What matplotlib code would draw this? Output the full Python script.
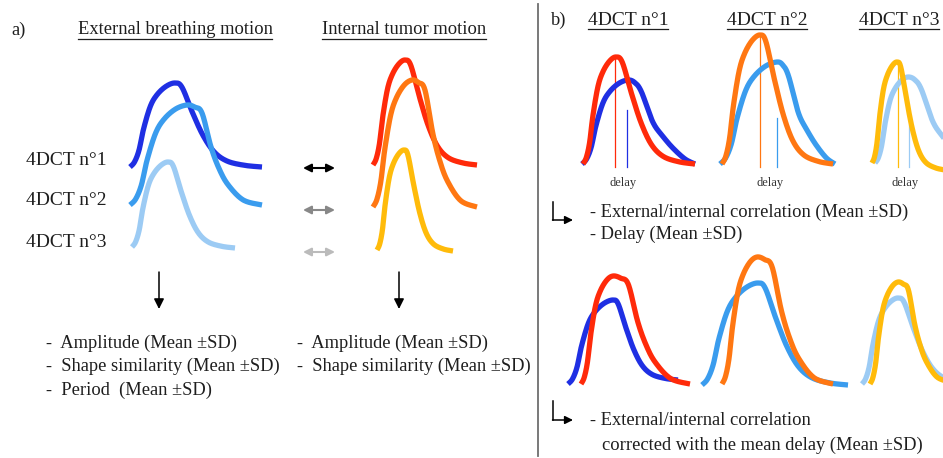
import numpy as np
import matplotlib
matplotlib.use("Agg")
import matplotlib.pyplot as plt

plt.rcParams['font.family'] = ['Liberation Serif', 'DejaVu Serif']

# ---------------- data ----------------
# normalized breathing-cycle profile (rise / fall)
RISE_U = [0.0, 0.1, 0.2, 0.3, 0.45, 0.6, 0.8, 1.0]
RISE_H = [0.0, 0.06, 0.2, 0.45, 0.72, 0.86, 0.96, 1.0]
FALL_V = {'round':    [0.0, 0.08, 0.2, 0.32, 0.45, 0.6, 0.8, 1.0],
          'shoulder': [0.0, 0.1, 0.2, 0.32, 0.43, 0.55, 0.75, 1.0],
          'slow':     [0.0, 0.1, 0.2, 0.37, 0.52, 0.67, 0.85, 1.0]}
FALL_H = {'round':    [1.0, 0.95, 0.65, 0.38, 0.18, 0.07, 0.02, 0.0],
          'shoulder': [1.0, 0.98, 0.92, 0.58, 0.36, 0.2, 0.05, 0.0],
          'slow':     [1.0, 0.97, 0.86, 0.5, 0.33, 0.19, 0.06, 0.0]}

# curves: (x_start, x_peak, x_end, y_start, y_peak, y_end, fall kind)
EXT_A = [(130, 175, 262, 167, 83, 167, 'round'),
         (130, 187, 262, 205, 105, 205, 'shoulder'),
         (132, 168, 235, 247, 162, 248, 'round')]
INT_A = [(373, 405, 477, 165, 60, 165, 'round'),
         (373, 412, 477, 207, 80, 207, 'shoulder'),
         (377, 404, 453, 250, 150, 251, 'round')]
EXT_BT = [(582, 628, 695, 164, 80, 164, 'slow'),
          (720, 777, 835, 164, 62, 164, 'slow'),
          (875, 908, 975, 163, 77, 166, 'slow')]
INT_BT = [(583, 616, 695, 164, 57, 164, 'round'),
          (722, 760, 833, 164, 35, 164, 'round'),
          (872, 897, 945, 163, 62, 170, 'round')]
EXT_BB = [(568, 613, 678, 384, 300, 380, 'round'),
          (702, 758, 848, 385, 283, 385, 'round'),
          (862, 898, 975, 384, 298, 384, 'round')]
INT_BB = [(581, 613, 690, 384, 276, 384, 'shoulder'),
          (722, 757, 833, 384, 257, 384, 'shoulder'),
          (870, 898, 950, 384, 282, 382, 'shoulder')]

# delay markers (x, top y) for internal / external peaks
DELAY_INT = [(615, 57), (760, 35), (898, 67)]
DELAY_EXT = [(627, 110), (777, 118), (909, 125)]
DELAY_BOTTOM = 167

EXT_COLORS = ['#1f2fe3', '#3a9cee', '#9ccbf4']
INT_COLORS = ['#ff2a0a', '#ff7712', '#ffbb0a']
ARROW_COLORS = ['#000000', '#888888', '#bbbbbb']

ROW_LABELS = ['4DCT n°1', '4DCT n°2', '4DCT n°3']
LEFT_LIST = ['-  Amplitude (Mean ±SD)', '-  Shape similarity (Mean ±SD)', '-  Period  (Mean ±SD)']
RIGHT_LIST = ['-  Amplitude (Mean ±SD)', '-  Shape similarity (Mean ±SD)']
B_TOP_LIST = ['- External/internal correlation (Mean ±SD)', '- Delay (Mean ±SD)']
B_BOT_LIST = ['- External/internal correlation', 'corrected with the mean delay (Mean ±SD)']

TXT = '#1e1e1e'


def catmull(pts, n=24):
    P = np.vstack([pts[0], pts, pts[-1]])
    out = []
    t = np.linspace(0, 1, n, endpoint=False)[:, None]
    for i in range(1, len(P) - 2):
        p0, p1, p2, p3 = P[i - 1], P[i], P[i + 1], P[i + 2]
        seg = 0.5 * ((2 * p1) + (-p0 + p2) * t + (2 * p0 - 5 * p1 + 4 * p2 - p3) * t ** 2
                     + (-p0 + 3 * p1 - 3 * p2 + p3) * t ** 3)
        out.append(seg)
    out.append(P[-2][None])
    return np.vstack(out)


def curve(spec):
    x0, xp, x1, y0, yp, y1, kind = spec
    ru = np.array(RISE_U); rh = np.array(RISE_H)
    fv = np.array(FALL_V[kind]); fh = np.array(FALL_H[kind])
    xr = x0 + ru * (xp - x0); yr = y0 + rh * (yp - y0)
    xf = xp + fv * (x1 - xp); yf = y1 + fh * (yp - y1)
    pts = np.column_stack([np.concatenate([xr, xf[1:]]), np.concatenate([yr, yf[1:]])])
    return catmull(pts)


fig = plt.figure(figsize=(9.43, 4.58), dpi=100)
ax = fig.add_axes([0, 0, 1, 1])
ax.set_xlim(0, 943)
ax.set_ylim(458, 0)
ax.axis('off')

LW = 3.8
# panel a curves
for spec, c in zip(EXT_A, EXT_COLORS):
    p = curve(spec); ax.plot(p[:, 0], p[:, 1], color=c, lw=LW, solid_capstyle='butt', zorder=3)
for spec, c in zip(INT_A, INT_COLORS):
    p = curve(spec); ax.plot(p[:, 0], p[:, 1], color=c, lw=LW, solid_capstyle='butt', zorder=3)

# panel b curves
for row_ext, row_int in ((EXT_BT, INT_BT), (EXT_BB, INT_BB)):
    for se, si, ce, ci in zip(row_ext, row_int, EXT_COLORS, INT_COLORS):
        p = curve(se); ax.plot(p[:, 0], p[:, 1], color=ce, lw=LW, solid_capstyle='butt', zorder=3)
        p = curve(si); ax.plot(p[:, 0], p[:, 1], color=ci, lw=LW, solid_capstyle='butt', zorder=4)

# delay lines
for (xi, yi), (xe, ye), ci, ce in zip(DELAY_INT, DELAY_EXT, INT_COLORS, EXT_COLORS):
    ax.plot([xi, xi], [yi, DELAY_BOTTOM], color=ci, lw=0.9, zorder=2)
    ax.plot([xe, xe], [ye, DELAY_BOTTOM], color=ce, lw=0.9, zorder=2)
    ax.text((xi + xe) / 2 + 2, 186, 'delay', fontsize=9, color='#333333', ha='center', va='baseline')

# separator
ax.plot([538, 538], [4, 456], color='#6e6e6e', lw=1.3)

# text helpers
underlines = []
def utext(x, y, s, size, ha='center'):
    t = ax.text(x, y, s, fontsize=size, color=TXT, ha=ha, va='baseline')
    underlines.append(t)
    return t

FS = 13.3
FL = 14
ax.text(11, 34.5, 'a)', fontsize=FS, color=TXT, va='baseline')
utext(175, 34.5, 'External breathing motion', FS)
utext(404, 34.5, 'Internal tumor motion', FS)

for lab, yb in zip(ROW_LABELS, [165, 205, 247]):
    ax.text(26, yb, lab, fontsize=FL, color=TXT, va='baseline')

# double arrows
for yb, c in zip([168, 210, 252], ARROW_COLORS):
    ax.annotate('', xy=(335, yb), xytext=(303, yb),
                arrowprops=dict(arrowstyle='<|-|>', color=c, lw=1.5, mutation_scale=12,
                                shrinkA=0, shrinkB=0))

# down arrows
for xa in (159, 399):
    ax.annotate('', xy=(xa, 309), xytext=(xa, 272),
                arrowprops=dict(arrowstyle='-|>', color='black', lw=1.1, mutation_scale=15,
                                shrinkA=0, shrinkB=0))

for s, yb in zip(LEFT_LIST, [348, 371, 395]):
    ax.text(46, yb, s, fontsize=FS, color=TXT, va='baseline')
for s, yb in zip(RIGHT_LIST, [348, 371]):
    ax.text(297, yb, s, fontsize=FS, color=TXT, va='baseline')

# panel b headings
ax.text(551, 25, 'b)', fontsize=FS, color=TXT, va='baseline')
for lab, xc in zip(ROW_LABELS, [628, 767, 899]):
    utext(xc, 25, lab, FL)

# corner arrows
for ytop, ybot in ((202, 220), (401, 420)):
    ax.plot([553, 553], [ytop, ybot], color='black', lw=1.1)
    ax.annotate('', xy=(573, ybot), xytext=(552.5, ybot),
                arrowprops=dict(arrowstyle='-|>', color='black', lw=1.1, mutation_scale=12,
                                shrinkA=0, shrinkB=0))

ax.text(590, 217, B_TOP_LIST[0], fontsize=FS, color=TXT, va='baseline')
ax.text(590, 238.5, B_TOP_LIST[1], fontsize=FS, color=TXT, va='baseline')
ax.text(590, 425, B_BOT_LIST[0], fontsize=FS, color=TXT, va='baseline')
ax.text(602, 450, B_BOT_LIST[1], fontsize=FS, color=TXT, va='baseline')

# underlines
fig.canvas.draw()
r = fig.canvas.get_renderer()
inv = ax.transData.inverted()
for t in underlines:
    bb = t.get_window_extent(r)
    (xa, _), (xb, _) = inv.transform([(bb.x0, bb.y0), (bb.x1, bb.y0)])
    yb = t.get_position()[1] + 4
    ax.plot([xa, xb], [yb, yb], color=TXT, lw=0.9)

fig.savefig('out.png', dpi=100)
